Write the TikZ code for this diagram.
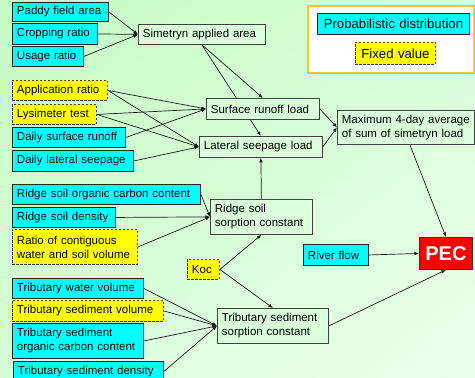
\documentclass[tikz,border=0pt]{standalone}
\usepackage{fontspec}
\setmainfont[WordSpace=1.4]{Liberation Sans}
\usetikzlibrary{arrows.meta,calc,shadings}
\pgfdeclarelayer{bg}
\pgfdeclarelayer{edges}
\pgfsetlayers{bg,edges,main}
\definecolor{bgA}{RGB}{198,252,198}
\definecolor{bgM}{RGB}{214,253,214}
\definecolor{bgB}{RGB}{236,255,236}
\definecolor{cyanbox}{RGB}{0,255,255}
\definecolor{yelbox}{RGB}{255,255,0}
\definecolor{procfill}{RGB}{218,255,218}
\definecolor{legborder}{RGB}{255,196,32}
\definecolor{pecred}{RGB}{255,0,0}
\newcommand\boxat[7]{%
  \pgfmathsetmacro\bxw{#5-9}%
  \node[#1, anchor=north west, minimum width=#5pt, minimum height=#6pt, text width=\bxw pt] (#2) at (#3,#4) {#7};}
\tikzset{
  base/.style={rectangle, inner xsep=4.5pt, inner ysep=0pt, align=left,
    font=\fontsize{11.5}{14}\selectfont, line width=0.9pt},
  prob/.style={base, fill=cyanbox, draw=black!85},
  fixd/.style={base, fill=yelbox, draw=black!75, dash pattern=on 2.5pt off 1.5pt},
  proc/.style={base, fill=procfill, draw=black!75, line width=0.8pt},
  legtext/.style={align=center, font=\fontsize{13.2}{15}\selectfont},
  pecbox/.style={base, fill=pecred, draw=black!80, text=white, align=center,
    font=\fontsize{20}{22}\bfseries},
  conn/.style={-{Latex[length=4.5pt,width=3.5pt]}, line width=0.7pt, black!90},
}
\begin{document}
\begin{tikzpicture}[x=1pt,y=-1pt]
\useasboundingbox (0,0) rectangle (475,378);
\begin{pgfonlayer}{bg}
\shade[upper left=bgA, lower right=bgB, upper right=bgM, lower left=bgM] (0,0) rectangle (475,378);
\end{pgfonlayer}
% legend
\node[draw=legborder, fill=white, line width=2pt, anchor=north west, minimum width=166pt, minimum height=67pt, inner sep=0pt] (legend) at (307,5) {};
\boxat{prob,legtext}{lprob}{317}{13}{152}{21}{\mbox{Probabilistic distribution}}
\boxat{fixd,legtext}{lfix}{355}{42}{80}{22}{\mbox{Fixed value}}
% inputs
\boxat{prob}{paddy}{12}{2}{96}{19}{\mbox{Paddy field area}}
\boxat{prob}{crop}{12}{23}{85}{21}{\mbox{Cropping ratio}}
\boxat{prob}{usage}{12}{46}{71}{20}{\mbox{Usage ratio}}
\boxat{fixd}{app}{12}{80}{95}{20}{\mbox{Application ratio}}
\boxat{fixd}{lys}{12}{104}{84}{20}{\mbox{Lysimeter test}}
\boxat{prob}{dsr}{12}{127}{113}{20}{\mbox{Daily surface runoff}}
\boxat{prob}{dls}{12}{150}{121}{21}{\mbox{Daily lateral seepage}}
\boxat{prob}{roc}{12}{184}{188}{20}{\mbox{Ridge soil organic carbon content}}
\boxat{prob}{rsd}{12}{207}{103}{20}{\mbox{Ridge soil density}}
\boxat{fixd}{ratio}{12}{229}{125}{35}{\mbox{Ratio of contiguous}\\\mbox{water and soil volume}}
\boxat{prob}{twv}{12}{278}{131}{20}{\mbox{Tributary water volume}}
\boxat{fixd}{tsv}{12}{300}{151}{21}{\mbox{Tributary sediment volume}}
\boxat{prob}{tsoc}{12}{323}{131}{35}{\mbox{Tributary sediment}\\\mbox{organic carbon content}}
\boxat{prob}{tsd}{13}{361}{150}{20}{\mbox{Tributary sediment density}}
\boxat{fixd}{koc}{187}{259}{32}{20}{\mbox{Koc}}
\boxat{prob}{river}{303}{244}{65}{21}{\mbox{River flow}}
% processes
\boxat{proc}{sim}{138}{24}{127}{20}{\mbox{Simetryn applied area}}
\boxat{proc}{surf}{206}{98}{113}{21}{\mbox{Surface runoff load}}
\boxat{proc}{lat}{199}{136}{123}{21}{\mbox{Lateral seepage load}}
\boxat{proc}{max}{337}{110}{137}{34}{\mbox{Maximum 4-day average}\\\mbox{of sum of simetryn load}}
\boxat{proc}{rsorp}{210}{199}{102}{35}{\mbox{Ridge soil}\\\mbox{sorption constant}}
\boxat{proc}{tsorp}{217}{308}{111}{35}{\mbox{Tributary sediment}\\\mbox{sorption constant}}
\boxat{pecbox}{pec}{419}{237}{53}{32}{\mbox{PEC}}
% connectors
\begin{pgfonlayer}{edges}
\draw[conn] (paddy.east) -- (sim.west);
\draw[conn] (crop.east) -- (sim.west);
\draw[conn] (usage.east) -- (sim.west);
\draw[conn] (sim.south) -- (surf.north);
\draw[conn] (sim.south) -- (lat.north);
\draw[conn] (app.east) -- (surf.west);
\draw[conn] (app.east) -- (lat.west);
\draw[conn] (lys.east) -- (surf.west);
\draw[conn] (lys.east) -- (lat.west);
\draw[conn] (dsr.east) -- (surf.west);
\draw[conn] (dls.east) -- (lat.west);
\draw[conn] (surf.east) -- (max.west);
\draw[conn] (lat.east) -- (max.west);
\draw[conn] ([xshift=4pt]max.south) -- (pec.north);
\draw[conn] (rsorp.north) -- (lat.south);
\draw[conn] (roc.east) -- (rsorp.west);
\draw[conn] (rsd.east) -- (rsorp.west);
\draw[conn] (ratio.east) -- (rsorp.west);
\draw[conn] (koc.east) -- (rsorp.south);
\draw[conn] (koc.east) -- (tsorp.north);
\draw[conn] (twv.east) -- (tsorp.west);
\draw[conn] (tsv.east) -- (tsorp.west);
\draw[conn] (tsoc.east) -- (tsorp.west);
\draw[conn] (tsd.east) -- (tsorp.west);
\draw[conn] (river.east) -- (pec.west);
\draw[conn] (tsorp.east) -- (pec.south);
\end{pgfonlayer}
\end{tikzpicture}
\end{document}
